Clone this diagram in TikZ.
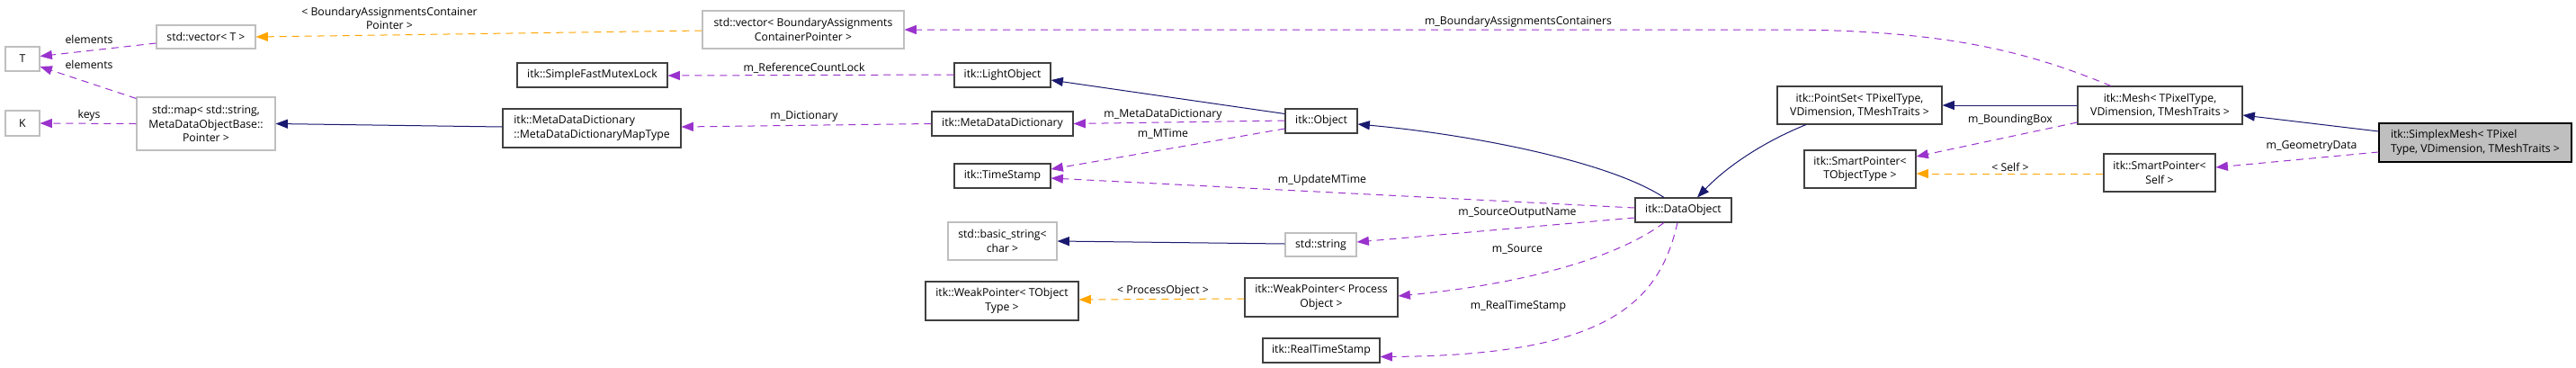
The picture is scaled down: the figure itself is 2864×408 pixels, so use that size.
\documentclass[tikz,border=0pt]{standalone}
\usepackage{fontspec}
\setmainfont{Open Sans}
\usetikzlibrary{arrows.meta,calc}
\definecolor{inhc}{HTML}{191970}
\definecolor{depc}{HTML}{9A32CD}
\definecolor{tmpc}{HTML}{FFA500}
\definecolor{gbord}{HTML}{BFBFBF}
\definecolor{dbord}{HTML}{404040}
\definecolor{selfill}{HTML}{BFBFBF}
\begin{document}
\begin{tikzpicture}[x=0.75pt,y=-0.75pt,
  every node/.style={font=\fontsize{9.2}{11.6}\selectfont},
  rect/.style n args={4}{at={({(#1+#3)/2},{(#2+#4)/2})}, minimum width={(#3-#1)*0.75pt}, minimum height={(#4-#2)*0.75pt}},
  box/.style={rectangle, inner sep=0pt, line width=0.8pt, align=center, fill=white},
  gbox/.style={box, draw=gbord},
  dbox/.style={box, draw=dbord},
  selbox/.style={box, draw=black, fill=selfill},
  lbl/.style={inner sep=0pt, align=center},
  tipend/.style={-{Triangle[length=10pt,width=7.5pt]}},
  inh/.style={tipend, color=inhc, line width=0.75pt},
  dep/.style={tipend, color=depc, line width=0.75pt, dash pattern=on 6pt off 4.5pt},
  tmp/.style={tipend, color=tmpc, line width=0.75pt, dash pattern=on 6pt off 4.5pt}]
\fill[white] (0,0) rectangle (2864,408);
\useasboundingbox (0,0) rectangle (2864,408);
% nodes
\node[gbox, rect={6}{52}{44}{79}] (T) {T};
\node[gbox, rect={6}{123}{44}{151}] (K) {K};
\node[gbox, rect={174}{28}{284}{54}] (vecT) {std::vector< T >};
\node[gbox, rect={152}{108}{306}{167}] (map) {std::map< std::string,\\MetaDataObjectBase::\\Pointer >};
\node[gbox, rect={781}{12}{1005}{54}] (vecBAC) {std::vector< BoundaryAssignments\\ContainerPointer >};
\node[dbox, rect={575}{70}{742}{97}] (mutex) {itk::SimpleFastMutexLock};
\node[dbox, rect={559}{121}{757}{164}, align=left] (maptype) {itk::MetaDataDictionary\\::MetaDataDictionaryMapType};
\node[dbox, rect={1061}{70}{1168}{97}] (light) {itk::LightObject};
\node[dbox, rect={1036}{124}{1193}{151}] (mdd) {itk::MetaDataDictionary};
\node[dbox, rect={1061}{182}{1168}{209}] (ts) {itk::TimeStamp};
\node[dbox, rect={1429}{121}{1509}{148}] (object) {itk::Object};
\node[gbox, rect={1054}{247}{1175}{289}] (bstr) {std::basic\_string<\\char >};
\node[dbox, rect={1029}{313}{1199}{356}] (wpT) {itk::WeakPointer< TObject\\Type >};
\node[dbox, rect={1384}{309}{1554}{352}] (wpP) {itk::WeakPointer< Process\\Object >};
\node[dbox, rect={1404}{376}{1534}{403}] (rts) {itk::RealTimeStamp};
\node[gbox, rect={1429}{259}{1508}{285}] (str) {std::string};
\node[dbox, rect={1818}{220}{1925}{247}] (dobj) {itk::DataObject};
\node[dbox, rect={1976}{96}{2159}{138}] (pset) {itk::PointSet< TPixelType,\\VDimension, TMeshTraits >};
\node[dbox, rect={2310}{96}{2493}{138}] (mesh) {itk::Mesh< TPixelType,\\VDimension, TMeshTraits >};
\node[dbox, rect={2006}{167}{2130}{209}] (spT) {itk::SmartPointer<\\TObjectType >};
\node[dbox, rect={2339}{171}{2463}{213}] (spS) {itk::SmartPointer<\\Self >};
\node[selbox, rect={2645}{137}{2859}{180}, align=left] (simplex) {itk::SimplexMesh< TPixel\\Type, VDimension, TMeshTraits >};
% connectors
\draw[dep] ($(vecT.west)+(0,7)$) -- ($(T.east)+(0,-3)$);
\draw[dep] ($(map.north west)+(0,2)$) -- ($(T.east)+(0,8.5)$);
\draw[dep] (map.west) -- (K.east);
\draw[tmp] ($(vecBAC.west)+(0,1)$) -- (vecT.east);
\draw[inh] ($(maptype.west)+(0,-1.5)$) -- (map.east);
\draw[dep] ($(light.west)+(0,-0.5)$) -- ($(mutex.east)+(0,0.5)$);
\draw[dep] (mdd.west) -- ($(maptype.east)+(0,-1.5)$);
\draw[inh] ($(object.west)+(0,-8)$) -- ($(light.east)+(0,5.5)$);
\draw[dep] ($(object.west)+(0,-0.5)$) -- (mdd.east);
\draw[dep] ($(object.west)+(0,8.5)$) -- ($(ts.east)+(0,-7.5)$);
\draw[dep] ($(dobj.west)+(0,-2.5)$) -- ($(ts.east)+(0,2.5)$);
\draw[dep] ($(dobj.west)+(0,8.5)$) -- ($(str.east)+(0,-3)$);
\draw[inh] ($(str.west)+(0,-1)$) -- (bstr.east);
\draw[dep] ($(dobj.south)+(-21.5,0)$) .. controls (1800,285) and (1700,315) .. ($(wpP.east)+(0,-1.5)$);
\draw[tmp] ($(wpP.west)+(0,1.5)$) -- ($(wpT.east)+(0,-1.5)$);
\draw[dep] ($(dobj.south)+(-6.5,0)$) .. controls (1845,335) and (1790,395) .. ($(rts.east)+(0,7)$);
\draw[inh] ($(dobj.north)+(-21.5,0)$) .. controls (1790,180) and (1640,150) .. ($(object.east)+(0,3.5)$);
\draw[inh] ($(pset.south)+(-59.5,0)$) .. controls (1960,158) and (1920,185) .. ($(dobj.north)+(15.5,0)$);
\draw[inh] (mesh.west) -- (pset.east);
\draw[dep] ($(mesh.west)+(0,19)$) -- ($(spT.east)+(0,-14)$);
\draw[tmp] ($(spS.west)+(0,1)$) -- ($(spT.east)+(0,5)$);
\coordinate (bend) at (1980,33);
\draw[dep] ($(mesh.north)+(-54.5,0)$) .. controls (2260,60) and (2170,33) .. (bend) -- (vecBAC.east);
\draw[inh] ($(simplex.west)+(0,-12.5)$) -- ($(mesh.east)+(0,11)$);
\draw[dep] ($(simplex.west)+(0,10.5)$) -- ($(spS.east)+(0,-6)$);
% labels
\node[lbl] (l1) at (99,44) {elements};
\node[lbl] (l2) at (99,72) {elements};
\node[lbl] (l3) at (99,128) {keys};
\node[lbl] (l4) at (433,20.5) {< BoundaryAssignmentsContainer\\Pointer >};
\node[lbl] (l5) at (894,76) {m\_ReferenceCountLock};
\node[lbl] (l6) at (894,129) {m\_Dictionary};
\node[lbl] (l7) at (1293,127) {m\_MetaDataDictionary};
\node[lbl] (l8) at (1293,149) {m\_MTime};
\node[lbl] (l9) at (1470,200) {m\_UpdateMTime};
\node[lbl] (l10) at (1687,237) {m\_SourceOutputName};
\node[lbl] (l11) at (1687,277) {m\_Source};
\node[lbl] (l12) at (1293,323) {< ProcessObject >};
\node[lbl] (l13) at (1688,340) {m\_RealTimeStamp};
\node[lbl] (l14) at (1688,24) {m\_BoundaryAssignmentsContainers};
\node[lbl] (l15) at (2235,133) {m\_BoundingBox};
\node[lbl] (l16) at (2235,186) {< Self >};
\node[lbl] (l17) at (2570,163) {m\_GeometryData};
\end{tikzpicture}
\end{document}
